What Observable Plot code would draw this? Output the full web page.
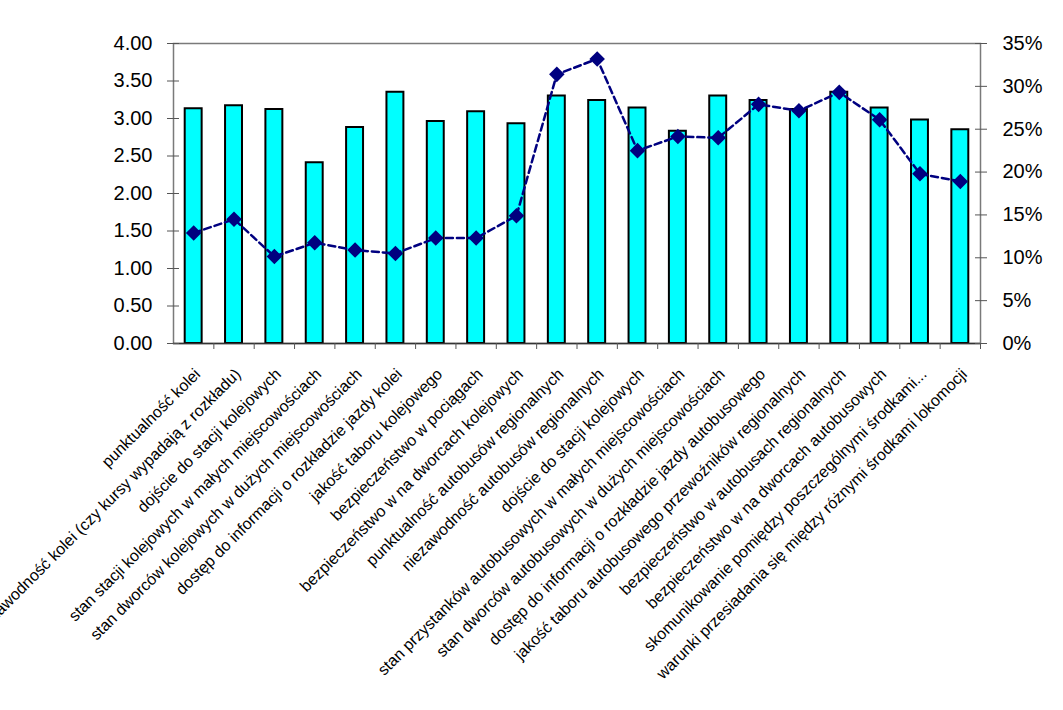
<!DOCTYPE html>
<html>
<head>
<meta charset="utf-8">
<script src="https://cdn.jsdelivr.net/npm/d3@7"></script>
<script src="https://cdn.jsdelivr.net/npm/@observablehq/plot@0.6"></script>
<style>
  html, body { margin: 0; padding: 0; background: #fff; }
  #chart { width: 1063px; height: 710px; overflow: hidden; }
</style>
</head>
<body>
<div id="chart"></div>
<script>
const categories = [
  "punktualność kolei",
  "niezawodność kolei (czy kursy wypadają z rozkładu)",
  "dojście do stacji kolejowych",
  "stan stacji kolejowych w małych miejscowościach",
  "stan dworców kolejowych w dużych miejscowościach",
  "dostęp do informacji o rozkładzie jazdy kolei",
  "jakość taboru kolejowego",
  "bezpieczeństwo w pociągach",
  "bezpieczeństwo w na dworcach kolejowych",
  "punktualność autobusów regionalnych",
  "niezawodność autobusów regionalnych",
  "dojście do stacji kolejowych",
  "stan przystanków autobusowych w małych miejscowościach",
  "stan dworców autobusowych w dużych miejscowościach",
  "dostęp do informacji o rozkładzie jazdy autobusowego",
  "jakość taboru autobusowego przewoźników regionalnych",
  "bezpieczeństwo w autobusach regionalnych",
  "bezpieczeństwo w na dworcach autobusowych",
  "skomunikowanie pomiędzy poszczególnymi środkami...",
  "warunki przesiadania się między różnymi środkami lokomocji"
];
const scores = [3.13, 3.17, 3.12, 2.41, 2.88, 3.35, 2.96, 3.09, 2.93, 3.30,
                3.24, 3.14, 2.83, 3.30, 3.24, 3.12, 3.35, 3.14, 2.98, 2.85];
const shares = [12.9, 14.5, 10.15, 11.75, 10.9, 10.5, 12.3, 12.3, 14.9, 31.4,
                33.2, 22.5, 24.15, 24.0, 27.9, 27.15, 29.3, 26.1, 19.8, 18.9];
const leftTicks = [0, 0.5, 1, 1.5, 2, 2.5, 3, 3.5, 4];
const rightTicks = [0, 5, 10, 15, 20, 25, 30, 35];

const LEFT_MAX = 4, RIGHT_MAX = 35;
const toLeft = p => p * LEFT_MAX / RIGHT_MAX;

const rows = categories.map((c, i) => ({i, c, score: scores[i], share: shares[i]}));
const idx = rows.map(d => d.i);

const W = 1063, H = 710, mL = 173, mR = 83, mT = 43, mB = 367;
const step = (W - mL - mR) / categories.length;
const font = "'Liberation Sans', Arial, sans-serif";

const chart = Plot.plot({
  width: W, height: H,
  marginLeft: mL, marginRight: mR, marginTop: mT, marginBottom: mB,
  style: {fontFamily: font, background: "#fff", overflow: "hidden"},
  x: {domain: idx, paddingInner: 0.58, paddingOuter: 0.29, round: false, axis: null, label: null},
  y: {domain: [0, LEFT_MAX], axis: null, label: null},
  marks: [
    Plot.frame({stroke: "#7a7a7a", strokeWidth: 1.5}),
    Plot.barY(rows, {x: "i", y: "score", fill: "#00FFFF", stroke: "#000", strokeWidth: 2}),
    Plot.ruleY([0], {stroke: "#333", strokeWidth: 1.5}),
    Plot.line(rows, {x: "i", y: d => toLeft(d.share), stroke: "#000080", strokeWidth: 2.5, strokeDasharray: "7,4"}),
    Plot.dot(rows, {x: "i", y: d => toLeft(d.share), symbol: "diamond2", r: 7, fill: "#000080", stroke: "none"}),
    Plot.axisY({anchor: "left", ticks: leftTicks, tickSize: 12, dx: 6, tickPadding: 15, label: null,
      tickFormat: d => d.toFixed(2), fontSize: 20, stroke: "#555", color: "#000"}),
    Plot.axisY({anchor: "right", ticks: rightTicks.map(toLeft), tickSize: 12, dx: -6, tickPadding: 16, label: null,
      tickFormat: d => Math.round(d * RIGHT_MAX / LEFT_MAX) + "%", fontSize: 20, stroke: "#555", color: "#000"}),
    Plot.axisX({ticks: idx, tickSize: 6, tickFormat: () => "", dx: step / 2, stroke: "#555", label: null}),
    Plot.axisX({ticks: idx, tickSize: 0, tickRotate: -45, tickPadding: 28, dx: 4, label: null,
      tickFormat: i => categories[i], fontSize: 16, color: "#000"})
  ]
});
document.getElementById("chart").appendChild(chart);
</script>
</body>
</html>
